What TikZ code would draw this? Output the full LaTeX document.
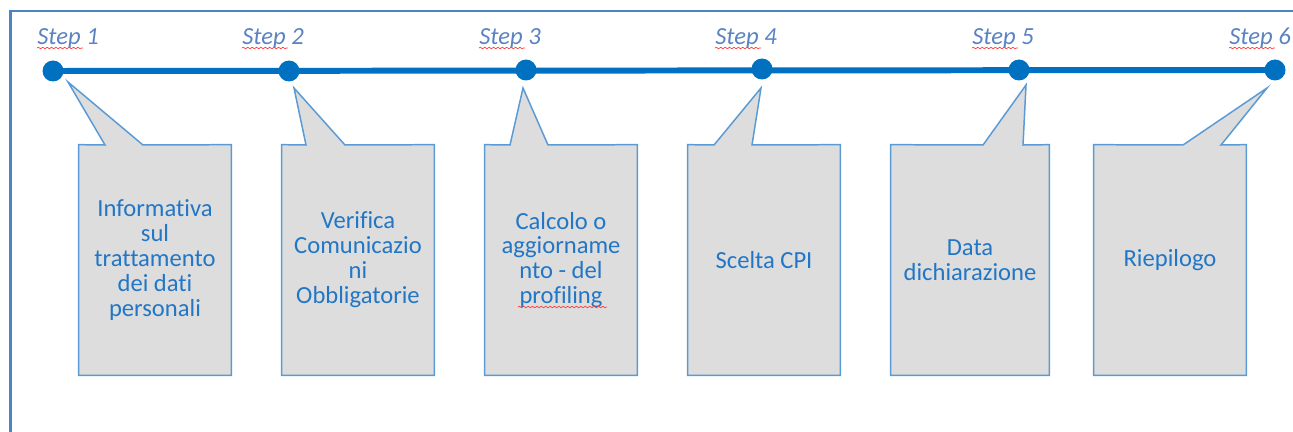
\documentclass[tikz,border=0pt]{standalone}
\usepackage{fontspec}
\setmainfont{Carlito}[Ligatures=NoCommon]
\usetikzlibrary{backgrounds,decorations.pathmorphing}

\definecolor{blu}{HTML}{0070C0}
\definecolor{blupasso}{HTML}{5A83C2}
\definecolor{blutesto}{HTML}{2176C6}
\definecolor{bordo}{HTML}{5B9BD5}
\definecolor{grigio}{HTML}{DDDDDD}
\definecolor{cornicecol}{HTML}{4A84C6}

\tikzstyle{punto} = [circle, fill=blu, minimum size=0.42cm, inner sep=0pt]
\tikzstyle{passo} = [anchor=base west, inner sep=0pt, text=blupasso, font=\fontsize{14}{14}\selectfont\itshape]
\tikzstyle{testo} = [rectangle, minimum width=3.04cm, minimum height=4.6cm, text centered, align=center, text=blutesto, font=\fontsize{14}{14.2}\selectfont]
\tikzstyle{fumetto} = [fill=grigio, draw=bordo, line width=0.85pt]
\tikzstyle{linea} = [draw=blu, line width=3.4pt]
\tikzstyle{cornice} = [draw=cornicecol, line width=1.4pt]
\tikzstyle{onda} = [draw=red!75, line width=0.4pt, decorate, decoration={snake, amplitude=0.45pt, segment length=2.5pt}]

\begin{document}
\begin{tikzpicture}[x=0.02cm, y=-0.02cm]
	\useasboundingbox (0,0) rectangle (1293,432);
	\draw[cornice] (10.5,432) -- (10.5,11) -- (1293,11);

	% punti sulla linea del tempo
	\node (p1) [punto] at (53,71) {};
	\node (p2) [punto] at (289,71) {};
	\node (p3) [punto] at (526,70) {};
	\node (p4) [punto] at (762,69) {};
	\node (p5) [punto] at (1019,70) {};
	\node (p6) [punto] at (1275,70) {};

	\node (s1) [passo] at (37,45) {Step 1};
	\node (s2) [passo] at (242,45) {Step 2};
	\node (s3) [passo] at (479,45) {Step 3};
	\node (s4) [passo] at (715,45) {Step 4};
	\node (s5) [passo] at (972,45) {Step 5};
	\node (s6) [passo] at (1229,45) {Step 6};

	\node (info)      [testo] at (155,260) {Informativa\\sul\\trattamento\\dei dati\\personali};
	\node (verifica)  [testo] at (358,260) {Verifica\\Comunicazio\\ni\\Obbligatorie};
	\node (calcolo)   [testo] at (561,260) {Calcolo o\\aggiorname\\nto - del\\profiling};
	\node (cpi)       [testo] at (764,260) {Scelta CPI};
	\node (data)      [testo, minimum width=3.16cm] at (970,260) {Data\\dichiarazione};
	\node (riepilogo) [testo] at (1170,260) {Riepilogo};

	\begin{scope}[on background layer]
		\draw[linea] (p1.center) -- (p6.center);
		\foreach \b/\l/\r/\p/\dx/\dy in {info/105/143/p1/15/11, verifica/306/345/p2/5/17,
		  calcolo/510/548/p3/-3/18, cpi/714/752/p4/-1/19, data/983/1023/p5/7/15, riepilogo/1183/1221/p6/-8/18}
			\draw[fumetto] (\b.north west) -- (\l,145) -- ([shift={(\dx,\dy)}]\p.center) -- (\r,145) -- (\b.north east) |- (\b.south west) -- cycle;
	\end{scope}

	% sottolineature del correttore
	\foreach \s in {s1,s2,s3,s4,s5,s6}
		\draw[onda] ([yshift=-0.06cm]\s.base west) -- ++(46,0);
	\draw[onda] (518,307) -- (607,307);
\end{tikzpicture}
\end{document}
